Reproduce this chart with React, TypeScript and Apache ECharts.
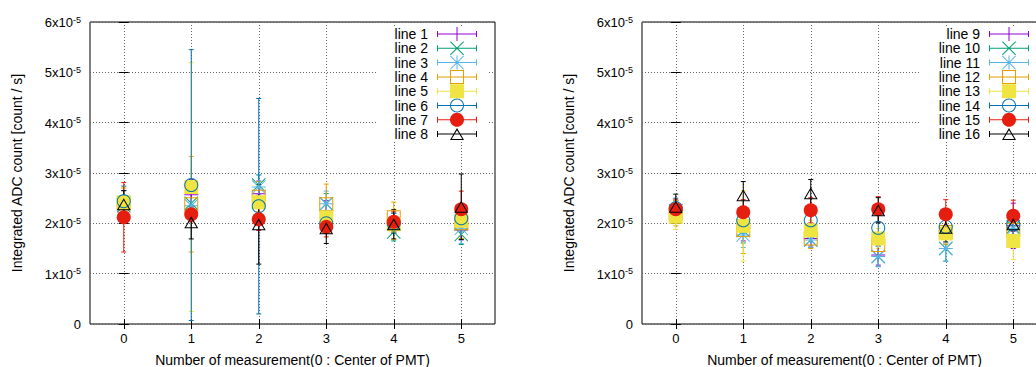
import React, { useEffect, useRef } from 'react';
import * as echarts from 'echarts';

const FONT = 'Liberation Sans, Arial, sans-serif';

const categories = [0, 1, 2, 3, 4, 5];
const yMin = 0;
const yMax = 6;
const yInterval = 1;
const xTitle = 'Number of measurement(0 : Center of PMT)';
const yTitle = 'Integrated ADC count [count / s]';

const lineNames = [
  'line 1', 'line 2', 'line 3', 'line 4', 'line 5', 'line 6', 'line 7', 'line 8',
  'line 9', 'line 10', 'line 11', 'line 12', 'line 13', 'line 14', 'line 15', 'line 16',
];
const palette = ['#9400d3', '#009e73', '#56b4e9', '#e69f00', '#f0e442', '#0072b2', '#e51e10', '#000000'];
const markerKinds = ['plus', 'cross', 'asterisk', 'openSquare', 'filledSquare', 'openCircle', 'filledCircle', 'openTriangle'];

// values in units of 1e-5 count/s
const line1Y = [2.35, 2.57, 2.59, 2.25, 2.0, 1.87];
const line1Err = [0.3, 0.3, 0.25, 0.2, 0.2, 0.2];
const line2Y = [2.35, 2.4, 2.76, 2.39, 1.83, 1.78];
const line2Err = [0.2, 0.2, 0.2, 0.2, 0.18, 0.2];
const line3Y = [2.4, 2.35, 2.72, 2.39, 2.0, 1.9];
const line3Err = [0.25, 0.25, 0.25, 0.25, 0.2, 0.3];
const line4Y = [2.4, 2.38, 2.53, 2.38, 2.12, 2.0];
const line4Err = [0.3, 0.95, 0.3, 0.4, 0.3, 0.3];
const line5Y = [2.42, 2.72, 2.42, 2.12, 1.98, 2.05];
const line5Err = [0.3, 2.47, 0.3, 0.25, 0.3, 0.3];
const line6Y = [2.44, 2.76, 2.34, 2.0, 2.0, 2.1];
const line6Err = [0.3, 2.69, 2.14, 0.2, 0.2, 0.25];
const line7Y = [2.12, 2.18, 2.08, 1.93, 2.03, 2.28];
const line7Err = [0.69, 0.15, 0.22, 0.2, 0.2, 0.36];
const line8Y = [2.38, 2.02, 1.98, 1.9, 1.98, 2.33];
const line8Err = [0.27, 0.33, 0.79, 0.3, 0.29, 0.65];

const line9Y = [2.25, 1.9, 1.7, 1.37, 1.85, 1.95];
const line9Err = [0.2, 0.25, 0.15, 0.2, 0.25, 0.45];
const line10Y = [2.25, 1.86, 1.67, 1.34, 1.5, 1.93];
const line10Err = [0.2, 0.25, 0.15, 0.2, 0.25, 0.3];
const line11Y = [2.25, 1.77, 1.67, 1.34, 1.5, 1.9];
const line11Err = [0.2, 0.25, 0.15, 0.2, 0.26, 0.3];
const line12Y = [2.2, 1.87, 1.7, 1.57, 1.83, 1.87];
const line12Err = [0.25, 0.47, 0.2, 0.2, 0.25, 0.3];
const line13Y = [2.13, 1.95, 1.86, 1.7, 1.8, 1.65];
const line13Err = [0.25, 0.7, 0.2, 0.2, 0.2, 0.37];
const line14Y = [2.3, 2.06, 2.06, 1.91, 1.93, 1.98];
const line14Err = [0.2, 0.25, 0.2, 0.25, 0.2, 0.2];
const line15Y = [2.28, 2.22, 2.26, 2.28, 2.18, 2.15];
const line15Err = [0.2, 0.25, 0.25, 0.25, 0.29, 0.31];
const line16Y = [2.33, 2.56, 2.6, 2.26, 1.91, 1.98];
const line16Err = [0.25, 0.27, 0.27, 0.25, 0.28, 0.25];

const valuesList = [
  line1Y, line2Y, line3Y, line4Y, line5Y, line6Y, line7Y, line8Y,
  line9Y, line10Y, line11Y, line12Y, line13Y, line14Y, line15Y, line16Y,
];
const errList = [
  line1Err, line2Err, line3Err, line4Err, line5Err, line6Err, line7Err, line8Err,
  line9Err, line10Err, line11Err, line12Err, line13Err, line14Err, line15Err, line16Err,
];

function ring(cx: number, cy: number, r: number, reverse: boolean) {
  const n = 32;
  const pts: string[] = [];
  for (let k = 0; k < n; k++) {
    const t = (reverse ? -1 : 1) * (2 * Math.PI * k) / n;
    pts.push(`${(cx + r * Math.cos(t)).toFixed(3)},${(cy + r * Math.sin(t)).toFixed(3)}`);
  }
  return 'M' + pts.join('L') + 'Z';
}

function markerPath(kind: string, ox: number, oy: number) {
  const poly = (pts: number[][]) => 'M' + pts.map(([x, y]) => `${x + ox},${y + oy}`).join('L') + 'Z';
  const plus = poly([[0, 6.5], [14, 6.5], [14, 7.5], [0, 7.5]]) + poly([[6.5, 0], [7.5, 0], [7.5, 14], [6.5, 14]]);
  const cross = poly([[0.7, 0], [7, 6.3], [13.3, 0], [14, 0.7], [7.7, 7], [14, 13.3], [13.3, 14], [7, 7.7], [0.7, 14], [0, 13.3], [6.3, 7], [0, 0.7]]);
  switch (kind) {
    case 'plus': return plus;
    case 'cross': return cross;
    case 'asterisk': return plus + cross;
    case 'openSquare': return poly([[0, 0], [14, 0], [14, 14], [0, 14]]) + poly([[1, 1], [1, 13], [13, 13], [13, 1]]);
    case 'filledSquare': return poly([[0, 0], [14, 0], [14, 14], [0, 14]]);
    case 'openCircle': return ring(7 + ox, 7 + oy, 7, false) + ring(7 + ox, 7 + oy, 6, true);
    case 'filledCircle': return ring(7 + ox, 7 + oy, 7, false);
    case 'openTriangle': return poly([[7, 0], [14, 12], [0, 12]]) + poly([[7, 2.1], [1.75, 11], [12.25, 11]]);
  }
  return plus;
}

function legendIcon(kind: string) {
  const poly = (pts: number[][]) => 'M' + pts.map(([x, y]) => `${x},${y}`).join('L') + 'Z';
  const bar = poly([[0, 6.5], [40, 6.5], [40, 7.5], [0, 7.5]]);
  const capL = poly([[0, 4], [1, 4], [1, 10], [0, 10]]);
  const capR = poly([[39, 4], [40, 4], [40, 10], [39, 10]]);
  return 'path://' + bar + capL + capR + markerPath(kind, 13, kind === 'openTriangle' ? 1 : 0);
}

export default function App() {
  const ref = useRef<HTMLDivElement>(null);
  useEffect(() => {
    if (!ref.current) return;
    const chart = echarts.init(ref.current, undefined, { renderer: 'svg' });
    const grids = [
      { left: 90, top: 22, width: 405, height: 302 },
      { left: 642, top: 22, width: 405, height: 302 },
    ];
    const xAxes: any[] = [];
    const yAxes: any[] = [];
    grids.forEach((_, g) => {
      xAxes.push({
        type: 'value', gridIndex: g, position: 'bottom', min: -0.5, max: 5.5,
        axisLine: { show: false },
        axisTick: { show: true, inside: true, length: 5, customValues: categories, lineStyle: { color: '#000' } },
        axisLabel: { customValues: categories, color: '#000', fontSize: 13, margin: 8, fontFamily: FONT },
        splitLine: { show: true, lineStyle: { color: '#666', type: [1, 2], width: 1 } },
        name: xTitle, nameLocation: 'middle', nameGap: 29,
        nameTextStyle: { color: '#000', fontSize: 14, fontFamily: FONT },
      });
      xAxes.push({
        type: 'value', gridIndex: g, position: 'top', min: -0.5, max: 5.5,
        axisLine: { show: false },
        axisTick: { show: true, inside: true, length: 5, customValues: categories, lineStyle: { color: '#000' } },
        axisLabel: { show: false, customValues: categories },
        splitLine: { show: false },
      });
      yAxes.push({
        type: 'value', gridIndex: g, position: 'left', min: yMin, max: yMax, interval: yInterval,
        axisLine: { show: false },
        axisTick: { show: true, inside: true, length: 5, lineStyle: { color: '#000' } },
        axisLabel: {
          color: '#000', fontSize: 13, margin: 9, fontFamily: FONT,
          formatter: (v: number) => (v === 0 ? '0' : `{m|${v}x10}{s|-5}`),
          rich: {
            m: { fontSize: 13, lineHeight: 13, verticalAlign: 'bottom', fontFamily: FONT, color: '#000' },
            s: { fontSize: 9, lineHeight: 14, padding: [0, 0, 6, 0], verticalAlign: 'top', fontFamily: FONT, color: '#000' },
          },
        },
        splitLine: { show: true, lineStyle: { color: '#666', type: [1, 2], width: 1 } },
        name: yTitle, nameLocation: 'middle', nameGap: 66,
        nameTextStyle: { color: '#000', fontSize: 14, fontFamily: FONT },
      });
      yAxes.push({
        type: 'value', gridIndex: g, position: 'right', min: yMin, max: yMax, interval: yInterval,
        axisLine: { show: false },
        axisTick: { show: true, inside: true, length: 5, lineStyle: { color: '#000' } },
        axisLabel: { show: false },
        splitLine: { show: false },
      });
    });

    const series: any[] = [];
    lineNames.forEach((name, i) => {
      const g = i < 8 ? 0 : 1;
      const k = i % 8;
      const color = palette[k];
      const ys = valuesList[i];
      const es = errList[i];
      series.push({
        type: 'custom', name: name + ' error', xAxisIndex: g * 2, yAxisIndex: g * 2, silent: true,
        data: categories.map((c, j) => [c, ys[j] - es[j], ys[j] + es[j]]),
        encode: { x: 0, y: [1, 2] },
        renderItem: (_p: any, api: any) => {
          const x = api.value(0);
          const lo = api.coord([x, api.value(1)]);
          const hi = api.coord([x, api.value(2)]);
          const c = 2.5;
          const st = { stroke: color, lineWidth: 1 };
          return {
            type: 'group',
            children: [
              { type: 'line', shape: { x1: lo[0], y1: lo[1], x2: hi[0], y2: hi[1] }, style: st },
              { type: 'line', shape: { x1: lo[0] - c, y1: lo[1], x2: lo[0] + c, y2: lo[1] }, style: st },
              { type: 'line', shape: { x1: hi[0] - c, y1: hi[1], x2: hi[0] + c, y2: hi[1] }, style: st },
            ],
          };
        },
      });
      series.push({
        type: 'scatter', name, xAxisIndex: g * 2, yAxisIndex: g * 2, silent: true,
        symbol: 'path://' + markerPath(markerKinds[k], 0, 0),
        symbolSize: markerKinds[k] === 'openTriangle' ? [14, 12] : 14,
        itemStyle: { color, opacity: 1, borderWidth: 0 },
        data: categories.map((c, j) => [c, ys[j]]),
      });
    });

    const legendFor = (g: number, right: number) => ({
      show: true, orient: 'vertical', align: 'right', right, top: 27,
      padding: [0, 12, 1, 18], backgroundColor: '#fff',
      itemWidth: 40, itemHeight: 14, itemGap: 0.3, selectedMode: false,
      textStyle: { color: '#000', fontSize: 14, fontFamily: FONT, lineHeight: 14, padding: [0, 4, 0, 0] },
      data: lineNames.slice(g * 8, g * 8 + 8).map((n, k) => ({
        name: n, icon: legendIcon(markerKinds[k]), itemStyle: { color: palette[k], borderWidth: 0 },
      })),
    });

    chart.setOption({
      animation: false,
      backgroundColor: '#fff',
      grid: grids.map((gr) => ({
        ...gr, show: true, borderColor: '#000', borderWidth: 1, backgroundColor: 'transparent',
        containLabel: false, outerBoundsMode: 'none',
      })),
      xAxis: xAxes,
      yAxis: yAxes,
      legend: [legendFor(0, 1060 - 489), legendFor(1, 1060 - 1041)],
      series,
    });
    return () => chart.dispose();
  }, []);
  return (
    <div style={{ position: 'fixed', left: 0, top: 0, width: 1036, height: 367, overflow: 'hidden', background: '#fff' }}>
      <div ref={ref} style={{ width: 1060, height: 367 }} />
    </div>
  );
}
